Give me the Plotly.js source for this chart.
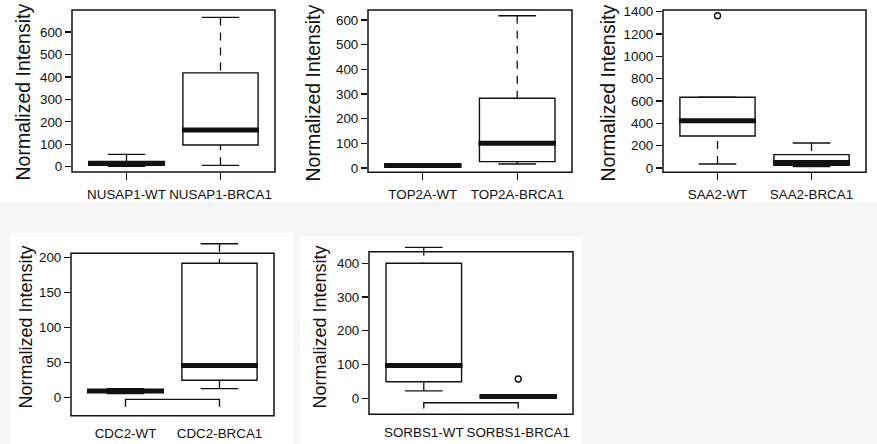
<!DOCTYPE html>
<html><head><meta charset="utf-8">
<script src="https://cdn.plot.ly/plotly-3.0.1.min.js"></script>
<style>html,body{margin:0;padding:0;background:#f5f5f5;overflow:hidden}</style>
</head><body><div id="chart" style="width:877px;height:444px"></div>
<script>
// ---------------- data ----------------
const nusap1Labels = ['NUSAP1-WT', 'NUSAP1-BRCA1'];
const nusap1Q1     = [6, 97];
const nusap1Median = [15, 163];
const nusap1Q3     = [22, 418];
const nusap1Lower  = [2, 6];
const nusap1Upper  = [55, 665];
const nusap1OutX   = [];
const nusap1OutY   = [];

const top2aLabels = ['TOP2A-WT', 'TOP2A-BRCA1'];
const top2aQ1     = [7, 26];
const top2aMedian = [10, 100];
const top2aQ3     = [12, 283];
const top2aLower  = [5, 16];
const top2aUpper  = [14, 617];
const top2aOutX   = [];
const top2aOutY   = [];

const saa2Labels = ['SAA2-WT', 'SAA2-BRCA1'];
const saa2Q1     = [287, 25];
const saa2Median = [424, 50];
const saa2Q3     = [633, 120];
const saa2Lower  = [36, 12];
const saa2Upper  = [633, 224];
const saa2OutX   = [0];
const saa2OutY   = [1364];

const cdc2Labels = ['CDC2-WT', 'CDC2-BRCA1'];
const cdc2Q1     = [8, 25];
const cdc2Median = [9.6, 46];
const cdc2Q3     = [11, 192];
const cdc2Lower  = [6, 13];
const cdc2Upper  = [13, 220];
const cdc2OutX   = [];
const cdc2OutY   = [];

const sorbs1Labels = ['SORBS1-WT', 'SORBS1-BRCA1'];
const sorbs1Q1     = [49, 4];
const sorbs1Median = [97, 5];
const sorbs1Q3     = [400, 7];
const sorbs1Lower  = [22, 3];
const sorbs1Upper  = [447, 8];
const sorbs1OutX   = [1];
const sorbs1OutY   = [57];

const yTitle = 'Normalized Intensity';

// ---------------- layout helpers ----------------
const W = 877, H = 444;
const fx = p => p / W, fy = p => 1 - p / H;
const INK = '#111';
const FONT = 'Arial, "Liberation Sans", Helvetica, sans-serif';

const panels = [
  {labels: nusap1Labels, q1: nusap1Q1, med: nusap1Median, q3: nusap1Q3, lo: nusap1Lower, hi: nusap1Upper, ox: nusap1OutX, oy: nusap1OutY,
   frame: [72, 10, 275, 172], domTop: 10, yrange: [-23.6, 698], dtick: 100, xticks: true, tX: 22.5, tY: 92, tSize: 19.5, bracket: null},
  {labels: top2aLabels, q1: top2aQ1, med: top2aMedian, q3: top2aQ3, lo: top2aLower, hi: top2aUpper, ox: top2aOutX, oy: top2aOutY,
   frame: [368, 10, 572, 172.3], domTop: 10, yrange: [-17.4, 640.5], dtick: 100, xticks: true, tX: 312.5, tY: 93, tSize: 19.5, bracket: null},
  {labels: saa2Labels, q1: saa2Q1, med: saa2Median, q3: saa2Q3, lo: saa2Lower, hi: saa2Upper, ox: saa2OutX, oy: saa2OutY,
   frame: [663, 10, 866, 172.3], domTop: 10, yrange: [-38.5, 1415], dtick: 200, xticks: true, tX: 607.5, tY: 93, tSize: 19.5, bracket: null},
  {labels: cdc2Labels, q1: cdc2Q1, med: cdc2Median, q3: cdc2Q3, lo: cdc2Lower, hi: cdc2Upper, ox: cdc2OutX, oy: cdc2OutY,
   frame: [71, 253.3, 274, 415.7], domTop: 240, yrange: [-25.7, 225.3], dtick: 50, xticks: false, tX: 25.5, tY: 327, tSize: 18, bracket: [-2.4, -13]},
  {labels: sorbs1Labels, q1: sorbs1Q1, med: sorbs1Median, q3: sorbs1Q3, lo: sorbs1Lower, hi: sorbs1Upper, ox: sorbs1OutX, oy: sorbs1OutY,
   frame: [369, 251.7, 573, 414.3], domTop: 242, yrange: [-47.4, 463], dtick: 100, xticks: false, tX: 319.5, tY: 327, tSize: 18, bracket: [-13, -30]}
];

const traces = [];
const layout = {
  width: W, height: H,
  margin: {l: 0, r: 0, t: 0, b: 0, pad: 0},
  paper_bgcolor: '#f5f5f5',
  plot_bgcolor: 'rgba(0,0,0,0)',
  showlegend: false,
  font: {family: FONT, color: INK},
  shapes: [
    {type: 'rect', xref: 'paper', yref: 'paper', x0: 0, x1: 1, y0: fy(202), y1: 1, fillcolor: '#ffffff', line: {width: 0}, layer: 'below'},
    {type: 'rect', xref: 'paper', yref: 'paper', x0: fx(10), x1: fx(293), y0: 0, y1: fy(233), fillcolor: '#ffffff', line: {width: 0}, layer: 'below'},
    {type: 'rect', xref: 'paper', yref: 'paper', x0: fx(300), x1: fx(582), y0: 0, y1: fy(237), fillcolor: '#ffffff', line: {width: 0}, layer: 'below'}
  ],
  annotations: []
};

panels.forEach((p, k) => {
  const sfx = k === 0 ? '' : String(k + 1);
  const xa = 'x' + sfx, ya = 'y' + sfx;
  const idx = p.labels.map((_, i) => i);

  // box body (quartiles + median), whiskers drawn separately (dashed like R)
  traces.push({
    type: 'box', xaxis: xa, yaxis: ya,
    x: idx, q1: p.q1, median: p.med, q3: p.q3,
    lowerfence: p.q1, upperfence: p.q3,
    width: 0.8, whiskerwidth: 0, boxpoints: false,
    fillcolor: '#ffffff', line: {color: INK, width: 1.4},
    hoverinfo: 'skip'
  });
  // dashed whiskers
  const wx = [], wy = [];
  idx.forEach(i => {
    if (p.lo[i] < p.q1[i]) { wx.push(i, i, null); wy.push(p.lo[i], p.q1[i], null); }
    if (p.hi[i] > p.q3[i]) { wx.push(i, i, null); wy.push(p.hi[i], p.q3[i], null); }
  });
  traces.push({type: 'scatter', mode: 'lines', xaxis: xa, yaxis: ya, x: wx, y: wy,
    line: {color: INK, width: 1.3, dash: '8px,7px'}, hoverinfo: 'skip'});
  // whisker staples
  const cx = [], cy = [];
  idx.forEach(i => {
    cx.push(i - 0.2, i + 0.2, null); cy.push(p.lo[i], p.lo[i], null);
    cx.push(i - 0.2, i + 0.2, null); cy.push(p.hi[i], p.hi[i], null);
  });
  traces.push({type: 'scatter', mode: 'lines', xaxis: xa, yaxis: ya, x: cx, y: cy,
    line: {color: INK, width: 1.4}, hoverinfo: 'skip'});
  // thick median
  const mx = [], my = [];
  idx.forEach(i => { mx.push(i - 0.41, i + 0.41, null); my.push(p.med[i], p.med[i], null); });
  traces.push({type: 'scatter', mode: 'lines', xaxis: xa, yaxis: ya, x: mx, y: my,
    line: {color: INK, width: 5}, hoverinfo: 'skip'});
  // outliers
  if (p.ox.length) {
    traces.push({type: 'scatter', mode: 'markers', xaxis: xa, yaxis: ya, x: p.ox, y: p.oy,
      marker: {symbol: 'circle-open', size: 6, color: INK, line: {width: 1.4}}, hoverinfo: 'skip'});
  }
  // axis bracket (R axis drawn inside the frame)
  if (p.bracket) {
    const [lev, tk] = p.bracket;
    traces.push({type: 'scatter', mode: 'lines', xaxis: xa, yaxis: ya,
      x: [0, 0, 1, 1], y: [tk, lev, lev, tk],
      line: {color: INK, width: 1.4}, hoverinfo: 'skip'});
  }

  const [l, t, r, b] = p.frame;
  layout['xaxis' + sfx] = {
    domain: [fx(l), fx(r)], anchor: ya, range: [-0.58, 1.58],
    tickmode: 'array', tickvals: idx, ticktext: p.labels,
    ticks: p.xticks ? 'outside' : '', ticklen: 7, tickwidth: 1.3, tickcolor: INK,
    ticklabelstandoff: p.xticks ? 3 : 8,
    showline: false, showgrid: false, zeroline: false,
    tickfont: {family: FONT, size: 13.4, color: INK}, fixedrange: true
  };
  layout['yaxis' + sfx] = {
    domain: [fy(b), fy(p.domTop)], anchor: xa, range: p.yrange,
    tick0: 0, dtick: p.dtick,
    ticks: 'outside', ticklen: 6, tickwidth: 1.3, tickcolor: INK,
    showline: false, showgrid: false, zeroline: false,
    tickfont: {family: FONT, size: 13.4, color: INK}, fixedrange: true
  };
  // frame
  layout.shapes.push({type: 'rect', xref: 'paper', yref: 'paper',
    x0: fx(l), x1: fx(r), y0: fy(b), y1: fy(t), line: {color: INK, width: 1.5}, fillcolor: 'rgba(0,0,0,0)', layer: 'above'});
  // y title
  layout.annotations.push({text: yTitle, xref: 'paper', yref: 'paper', x: fx(p.tX), y: fy(p.tY),
    xanchor: 'center', yanchor: 'middle', textangle: -90, showarrow: false,
    font: {family: FONT, size: p.tSize, color: INK}});
});

Plotly.newPlot('chart', traces, layout, {displayModeBar: false, staticPlot: true});
</script>
</body></html>
